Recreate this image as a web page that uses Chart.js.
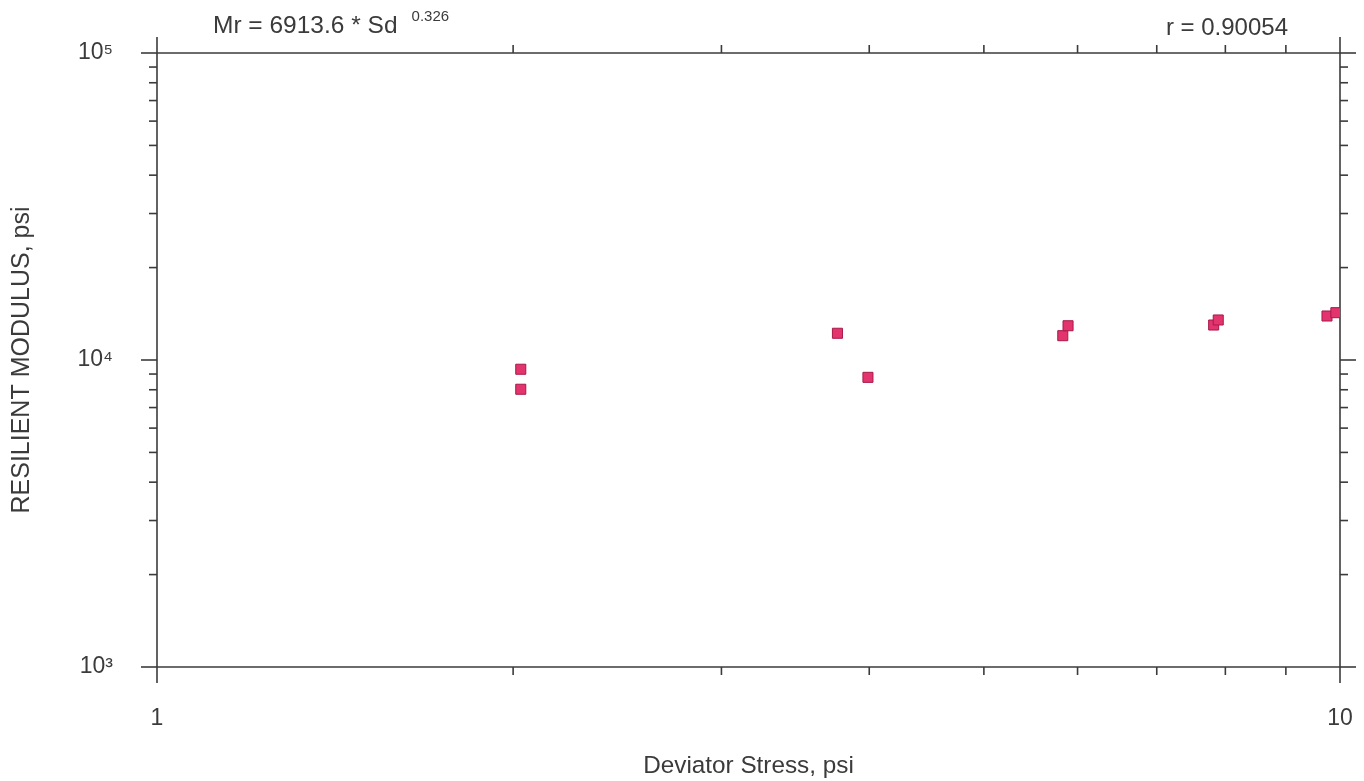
<!DOCTYPE html>
<html>
<head>
<meta charset="utf-8">
<title>Resilient Modulus vs Deviator Stress</title>
<script src="https://cdn.jsdelivr.net/npm/chart.js@4/dist/chart.umd.min.js"></script>
<style>
  html, body { margin: 0; padding: 0; background: #ffffff; }
  canvas { display: block; }
</style>
</head>
<body>
<canvas id="chart" width="1364" height="781"></canvas>
<script>
// Measured test points: deviator stress (psi) and resilient modulus (psi)
const deviatorStress = [2.03, 2.03, 3.76, 3.99, 5.83, 5.89, 7.82, 7.89, 9.75, 9.92];
const resilientModulus = [9330, 8030, 12220, 8780, 12000, 12930, 13000, 13500, 13910, 14260];

// Axis ranges and labelled ticks
const xRange = [1, 10];
const yRange = [1000, 100000];
const xTickValues = [1, 10];
const xTickLabels = ['1', '10'];
const yTickValues = [1000, 10000, 100000];
const yTickLabels = ['10³', '10⁴', '10⁵'];
const xMinorTicks = [2, 3, 4, 5, 6, 7, 8, 9];
const yMinorTicks = [2000, 3000, 4000, 5000, 6000, 7000, 8000, 9000,
                     20000, 30000, 40000, 50000, 60000, 70000, 80000, 90000];

// Regression annotations
const fitEquation = 'Mr = 6913.6 * Sd';
const fitExponent = '0.326';
const fitCorrelation = 'r = 0.90054';

const FONT = '"Liberation Sans", Arial, Helvetica, sans-serif';
const INK = '#3b3b3b';

// Boxed frame with log ticks drawn outward on all four sides
const framePlugin = {
  id: 'frame',
  beforeDatasetsDraw(chart) {
    const { ctx, chartArea: { left, right, top, bottom }, scales: { x, y } } = chart;
    const minorLen = 8, majorLen = 16;
    ctx.save();
    ctx.strokeStyle = INK;
    ctx.lineWidth = 1.6;
    ctx.lineCap = 'butt';
    const seg = (x1, y1, x2, y2) => { ctx.beginPath(); ctx.moveTo(x1, y1); ctx.lineTo(x2, y2); ctx.stroke(); };
    seg(left, top, right, top);
    seg(left, bottom, right, bottom);
    seg(left, top, left, bottom);
    seg(right, top, right, bottom);
    xTickValues.forEach(v => {
      const px = x.getPixelForValue(v);
      seg(px, top, px, top - majorLen);
      seg(px, bottom, px, bottom + majorLen);
    });
    xMinorTicks.forEach(v => {
      const px = x.getPixelForValue(v);
      seg(px, top, px, top - minorLen);
      seg(px, bottom, px, bottom + minorLen);
    });
    yTickValues.forEach(v => {
      const py = y.getPixelForValue(v);
      seg(left, py, left - majorLen, py);
      seg(right, py, right + majorLen, py);
    });
    yMinorTicks.forEach(v => {
      const py = y.getPixelForValue(v);
      seg(left, py, left - minorLen, py);
      seg(right, py, right + minorLen, py);
    });
    ctx.restore();
  },
  afterDraw(chart) {
    const { ctx, chartArea: { left, right } } = chart;
    ctx.save();
    ctx.fillStyle = INK;
    ctx.textBaseline = 'alphabetic';
    ctx.textAlign = 'left';
    ctx.font = '24.5px ' + FONT;
    const eqX = left + 56;
    ctx.fillText(fitEquation, eqX, 33);
    const eqW = ctx.measureText(fitEquation).width;
    ctx.font = '15px ' + FONT;
    ctx.fillText(fitExponent, eqX + eqW + 14, 21);
    ctx.font = '24px ' + FONT;
    ctx.textAlign = 'right';
    ctx.fillText(fitCorrelation, right - 52, 35);
    ctx.restore();
  }
};

new Chart(document.getElementById('chart'), {
  type: 'scatter',
  data: {
    datasets: [{
      data: deviatorStress.map((sd, i) => ({ x: sd, y: resilientModulus[i] })),
      pointStyle: 'rect',
      pointRadius: 7.1,
      pointHoverRadius: 7.1,
      backgroundColor: '#e3346e',
      borderColor: '#a8184a',
      borderWidth: 1
    }]
  },
  options: {
    responsive: false,
    animation: false,
    devicePixelRatio: 1,
    layout: { padding: { left: 0, right: 24, top: 53, bottom: 0 } },
    plugins: { legend: { display: false }, tooltip: { enabled: false }, title: { display: false } },
    scales: {
      x: {
        type: 'logarithmic',
        min: xRange[0],
        max: xRange[1],
        grid: { display: false, drawTicks: false },
        border: { display: false },
        afterBuildTicks(scale) { scale.ticks = xTickValues.map(v => ({ value: v })); },
        afterFit(scale) {
          scale.height = 114;
          scale.paddingLeft = 0;
          scale.paddingRight = 0;
        },
        ticks: {
          autoSkip: false,
          maxRotation: 0,
          padding: 38,
          color: INK,
          font: { family: FONT, size: 23 },
          callback: (v, i) => xTickLabels[i]
        },
        title: {
          display: true,
          text: 'Deviator Stress, psi',
          color: INK,
          font: { family: FONT, size: 24.3 },
          padding: { top: 0, bottom: 0 }
        }
      },
      y: {
        type: 'logarithmic',
        min: yRange[0],
        max: yRange[1],
        grid: { display: false, drawTicks: false },
        border: { display: false },
        afterBuildTicks(scale) { scale.ticks = yTickValues.map(v => ({ value: v })); },
        afterFit(scale) {
          scale.width = 157;
          scale.paddingTop = 0;
          scale.paddingBottom = 0;
        },
        ticks: {
          autoSkip: false,
          padding: 44,
          color: INK,
          font: { family: FONT, size: 23 },
          callback: (v, i) => yTickLabels[i]
        },
        title: {
          display: true,
          text: 'RESILIENT MODULUS, psi',
          color: INK,
          font: { family: FONT, size: 25 },
          padding: { top: 7, bottom: 0 }
        }
      }
    }
  },
  plugins: [framePlugin]
});
</script>
</body>
</html>
